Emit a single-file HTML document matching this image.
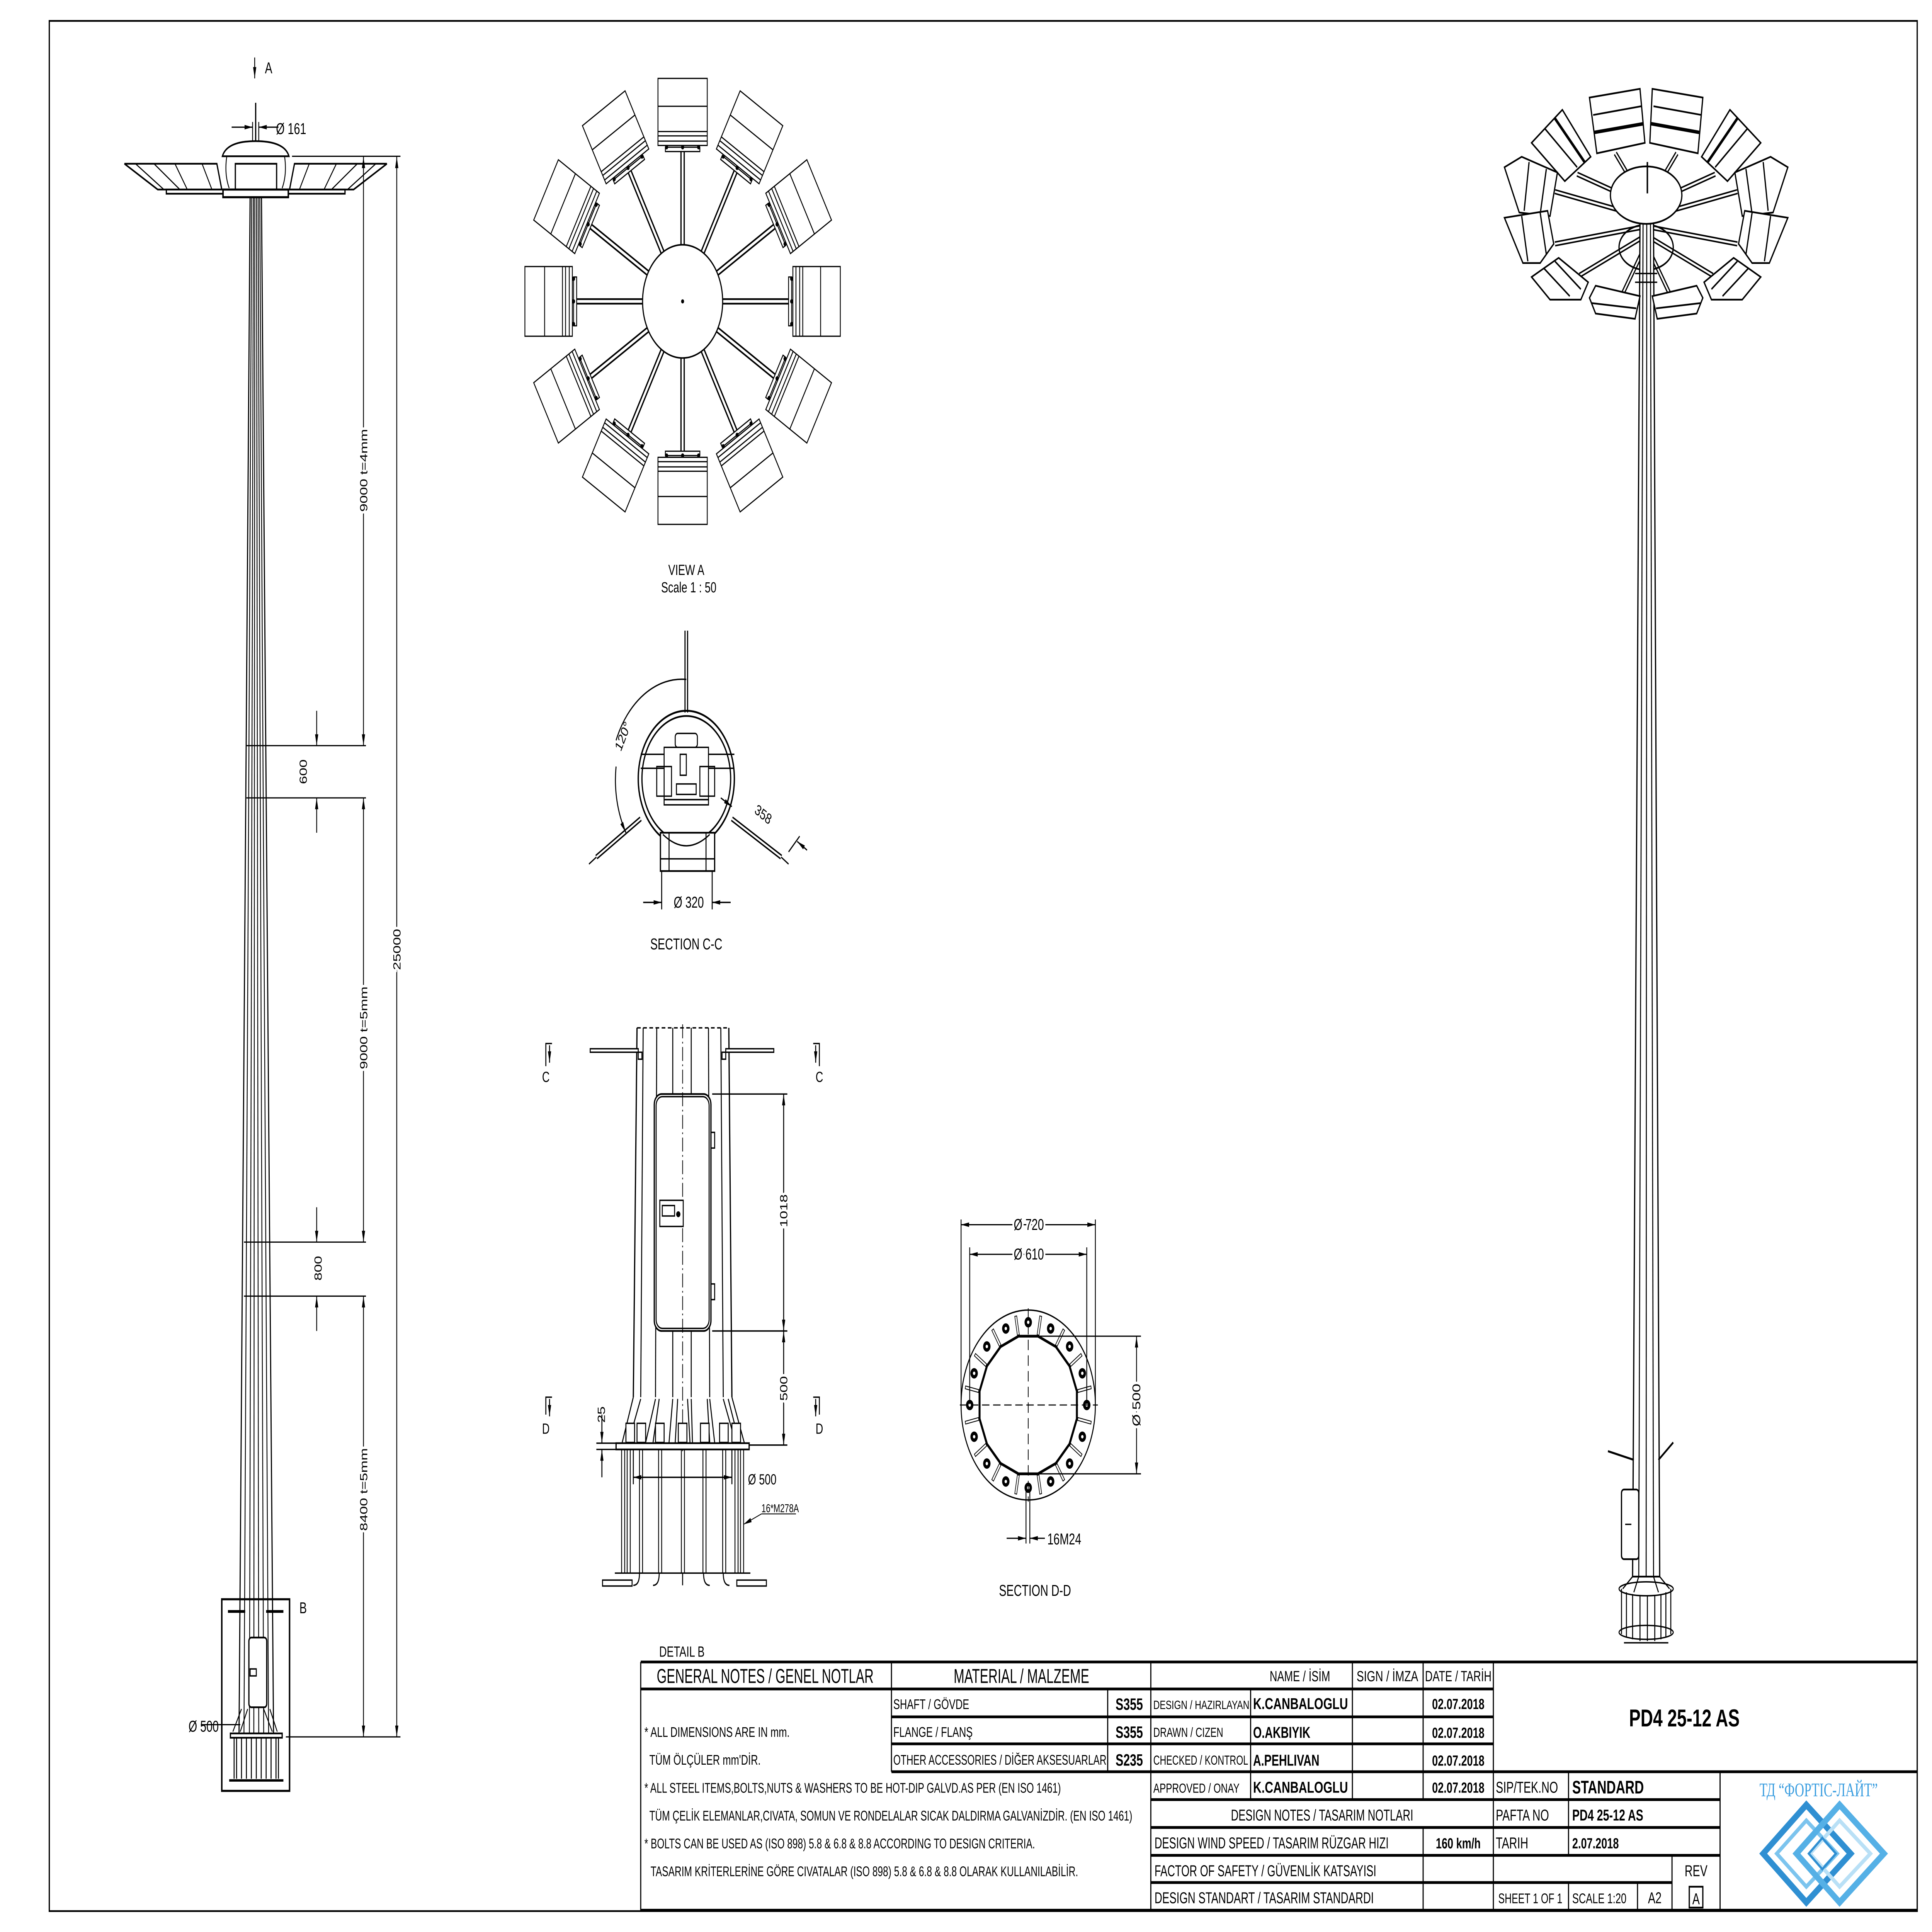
<!DOCTYPE html>
<html><head><meta charset="utf-8"><style>
html,body{margin:0;padding:0;background:#fff;overflow:hidden;width:100%;height:100%}
svg{display:block;width:100vw;height:100vh}
text{font-family:"Liberation Sans Narrow","Liberation Sans",sans-serif;fill:#000}
.h{stroke:#fff;stroke-width:3;paint-order:stroke}
</style></head><body>
<svg xmlns="http://www.w3.org/2000/svg" viewBox="0 0 1568 1109" preserveAspectRatio="none">
<defs>
<marker id="ar" viewBox="0 0 10 4" refX="10" refY="2" markerWidth="7" markerHeight="2.6" markerUnits="userSpaceOnUse" orient="auto-start-reverse"><path d="M0,0L10,2L0,4Z" fill="#000"/></marker>
<g id="lum" fill="#fff" stroke="#000" stroke-width="0.7">
<line x1="554" y1="141" x2="554" y2="86" stroke-width="3.6"/>
<line x1="554" y1="141" x2="554" y2="86" stroke="#fff" stroke-width="1.6"/>
<rect x="540" y="84.5" width="28" height="2.5"/>
<rect x="534" y="45" width="40" height="38.5"/>
<line x1="534" y1="61" x2="574" y2="61"/>
<line x1="534" y1="75.5" x2="574" y2="75.5"/>
<line x1="534" y1="78" x2="574" y2="78"/>
<line x1="534" y1="81" x2="574" y2="81"/>
<circle cx="541" cy="84.5" r="0.9" fill="#000"/><circle cx="554" cy="84.5" r="0.9" fill="#000"/><circle cx="567" cy="84.5" r="0.9" fill="#000"/>
</g>
<g id="slot"><rect x="875.5" y="805.7" width="11" height="1.6" fill="#fff" stroke="#000" stroke-width="0.5"/></g>
</defs>
<rect width="1568" height="1109" fill="#fff"/>
<rect x="40" y="12" width="1516" height="1085" fill="none" stroke="#000" stroke-width="1"/>

<!-- ===== LEFT POLE ELEVATION ===== -->
<g stroke="#000" fill="none" stroke-width="0.7">
<line x1="206.7" y1="33" x2="206.7" y2="45" marker-end="url(#ar)"/>
<line x1="207.5" y1="59" x2="207.5" y2="81" stroke-width="1"/>
<line x1="188" y1="73" x2="205" y2="73" marker-end="url(#ar)"/>
<line x1="226" y1="73" x2="210" y2="73" marker-end="url(#ar)"/>
<line x1="205" y1="70" x2="205" y2="86"/><line x1="210" y1="70" x2="210" y2="86"/>
<path d="M180.5,89.7 Q184,81 207.5,81 Q231,81 234.5,89.7 Z" fill="#fff" stroke-width="1"/>
<polygon points="101,94 176,94 180,108.8 128,108.8" fill="#fff" stroke-width="1"/>
<line x1="110" y1="94" x2="133" y2="108.8"/><line x1="125" y1="94" x2="146" y2="108.8"/><line x1="142" y1="94" x2="152" y2="108.8"/><line x1="164" y1="94" x2="172" y2="108.8"/>
<polygon points="314,94 239,94 235,108.8 287,108.8" fill="#fff" stroke-width="1"/>
<line x1="305" y1="94" x2="282" y2="108.8"/><line x1="290" y1="94" x2="269" y2="108.8"/><line x1="273" y1="94" x2="263" y2="108.8"/><line x1="251" y1="94" x2="243" y2="108.8"/>
<rect x="191" y="94" width="33.5" height="14.8" fill="#fff" stroke-width="1"/>
<path d="M184,90 Q182,100 186,108 M231,90 Q233,100 229,108"/>
<rect x="135" y="108.8" width="145" height="2.4" fill="#fff" stroke-width="1"/>
<rect x="181" y="108.8" width="53" height="4.4" fill="#fff" stroke-width="1.2"/>
<line x1="237" y1="89.7" x2="325" y2="89.7"/>
<line x1="203" y1="113" x2="194" y2="995" stroke-width="0.9"/>
<line x1="204.3" y1="113" x2="198" y2="995"/>
<line x1="205.7" y1="113" x2="202.4" y2="995"/>
<line x1="206.8" y1="113" x2="206" y2="995"/>
<line x1="208.2" y1="113" x2="210" y2="995"/>
<line x1="209.5" y1="113" x2="214" y2="995"/>
<line x1="210.8" y1="113" x2="218" y2="995"/>
<line x1="212.2" y1="113" x2="222" y2="995" stroke-width="0.9"/>
<line x1="200" y1="428" x2="297" y2="428"/>
<line x1="200" y1="458" x2="297" y2="458"/>
<line x1="198" y1="713" x2="297" y2="713"/>
<line x1="198" y1="744" x2="297" y2="744"/>
<line x1="232" y1="997" x2="325" y2="997"/>
<line x1="295" y1="90" x2="295" y2="428" marker-start="url(#ar)" marker-end="url(#ar)"/>
<line x1="295" y1="458" x2="295" y2="713" marker-start="url(#ar)" marker-end="url(#ar)"/>
<line x1="295" y1="744" x2="295" y2="997" marker-start="url(#ar)" marker-end="url(#ar)"/>
<line x1="322" y1="90" x2="322" y2="997" marker-start="url(#ar)" marker-end="url(#ar)"/>
<line x1="257" y1="408" x2="257" y2="428" marker-end="url(#ar)"/>
<line x1="257" y1="478" x2="257" y2="458" marker-end="url(#ar)"/>
<line x1="257" y1="693" x2="257" y2="713" marker-end="url(#ar)"/>
<line x1="257" y1="764" x2="257" y2="744" marker-end="url(#ar)"/>
<rect x="180" y="918" width="55" height="110" stroke-width="1.2"/>
<line x1="185" y1="925" x2="199" y2="925" stroke-width="1.6"/>
<line x1="216" y1="925" x2="230" y2="925" stroke-width="1.6"/>
<rect x="202" y="940" width="14.5" height="40" rx="2" fill="#fff" stroke-width="1"/>
<rect x="203" y="958" width="5" height="4" stroke-width="0.8"/>
<path d="M196,981 L189,994 M201,981 L195,994 M219,981 L225,994 M214,981 L221,994" />
<rect x="187" y="995" width="42" height="2.5" fill="#fff" stroke-width="1"/>
<g stroke-width="0.8">
<path d="M190,997V1021M192,997V1021M196,997V1021M200,997V1021M204,997V1021M208,997V1021M212,997V1021M216,997V1021M220,997V1021M224,997V1021M226,997V1021"/>
<line x1="186" y1="1022" x2="230" y2="1022" stroke-width="1.4"/>
</g>
<line x1="163" y1="990" x2="195" y2="990"/>
</g>
<g font-size="9">
<text x="215" y="42">A</text>
<text x="224" y="77">Ø 161</text>
<text x="243" y="926">B</text>
<text x="153" y="994">Ø 500</text>
<text class="h" transform="translate(298,270) rotate(-90)" text-anchor="middle" font-size="8.5">9000 t=4mm</text>
<text class="h" transform="translate(298,590) rotate(-90)" text-anchor="middle" font-size="8.5">9000 t=5mm</text>
<text class="h" transform="translate(298,855) rotate(-90)" text-anchor="middle" font-size="8.5">8400 t=5mm</text>
<text class="h" transform="translate(325,545) rotate(-90)" text-anchor="middle" font-size="8.5">25000</text>
<text transform="translate(249,443) rotate(-90)" text-anchor="middle" font-size="8.5">600</text>
<text transform="translate(261,728) rotate(-90)" text-anchor="middle" font-size="8.5">800</text>
<text x="535" y="951" font-size="8.5">DETAIL  B</text>
</g>

<!-- ===== VIEW A ===== -->
<use href="#lum"/>
<use href="#lum" transform="rotate(30 554 173)"/>
<use href="#lum" transform="rotate(60 554 173)"/>
<use href="#lum" transform="rotate(90 554 173)"/>
<use href="#lum" transform="rotate(120 554 173)"/>
<use href="#lum" transform="rotate(150 554 173)"/>
<use href="#lum" transform="rotate(180 554 173)"/>
<use href="#lum" transform="rotate(210 554 173)"/>
<use href="#lum" transform="rotate(240 554 173)"/>
<use href="#lum" transform="rotate(270 554 173)"/>
<use href="#lum" transform="rotate(300 554 173)"/>
<use href="#lum" transform="rotate(330 554 173)"/>
<circle cx="554" cy="173" r="32.5" fill="#fff" stroke="#000" stroke-width="0.9"/>
<circle cx="554" cy="173" r="1.2" fill="#000"/>
<text x="557" y="330" font-size="8.5" text-anchor="middle">VIEW A</text>
<text x="559" y="340" font-size="8.5" text-anchor="middle">Scale 1 : 50</text>

<!-- ===== SECTION C-C ===== -->
<g stroke="#000" fill="none" stroke-width="0.8">
<line x1="557" y1="362" x2="557" y2="409" stroke-width="3"/>
<line x1="557" y1="362" x2="557" y2="409" stroke="#fff" stroke-width="1.2"/>
<line x1="520" y1="470" x2="484" y2="492" stroke-width="3"/>
<line x1="520" y1="470" x2="484" y2="492" stroke="#fff" stroke-width="1.2"/>
<line x1="594" y1="470" x2="634" y2="492" stroke-width="3"/>
<line x1="594" y1="470" x2="634" y2="492" stroke="#fff" stroke-width="1.2"/>
<line x1="484" y1="492" x2="478" y2="496"/><line x1="634" y1="492" x2="640" y2="496"/>
<circle cx="557" cy="447" r="39" stroke-width="1.1"/>
<circle cx="557" cy="447" r="36" stroke-width="1"/>
<rect x="536" y="478" width="44" height="22" fill="#fff" stroke-width="1"/>
<line x1="536" y1="493" x2="580" y2="493"/>
<line x1="543" y1="478" x2="543" y2="500"/><line x1="573" y1="478" x2="573" y2="500"/>
<path d="M538,479 Q557,492 576,479"/>
<rect x="548" y="421" width="18" height="8" rx="2"/>
<rect x="539" y="429" width="36" height="30"/>
<line x1="520" y1="433" x2="539" y2="433"/><line x1="575" y1="433" x2="596" y2="433"/>
<line x1="520" y1="441" x2="539" y2="441"/><line x1="575" y1="441" x2="596" y2="441"/>
<rect x="533" y="440" width="12" height="17"/><rect x="568" y="440" width="12" height="17"/>
<rect x="549" y="450" width="16" height="6"/>
<rect x="539" y="459" width="36" height="3"/>
<rect x="552" y="433" width="5" height="12"/>
<path d="M557,390 A58,58 0 0 0 500,425"/>
<path d="M500,440 A58,58 0 0 0 508,478" marker-end="url(#ar)"/>
<line x1="585" y1="458" x2="594" y2="463" marker-end="url(#ar)"/>
<line x1="640" y1="489" x2="649" y2="480"/>
<line x1="655" y1="488" x2="647" y2="483" marker-end="url(#ar)"/>
<line x1="537" y1="500" x2="537" y2="522"/><line x1="578" y1="500" x2="578" y2="522"/>
<line x1="522" y1="518" x2="537" y2="518" marker-end="url(#ar)"/>
<line x1="593" y1="518" x2="578" y2="518" marker-end="url(#ar)"/>
</g>
<text transform="translate(508,424) rotate(-62)" font-size="8.5" text-anchor="middle">120°</text>
<text transform="translate(618,470) rotate(30)" font-size="8.5" text-anchor="middle">358</text>
<text x="559" y="521" font-size="9" text-anchor="middle">Ø 320</text>
<text x="557" y="545" font-size="9" text-anchor="middle">SECTION  C-C</text>

<!-- ===== FRONT SECTION ===== -->
<g stroke="#000" fill="none" stroke-width="0.8">
<line x1="517" y1="590" x2="591.5" y2="590" stroke-dasharray="3 2"/>
<line x1="517" y1="590" x2="514" y2="802" stroke-width="1"/>
<line x1="522" y1="590" x2="520" y2="802"/>
<line x1="533" y1="590" x2="532" y2="802"/>
<line x1="546" y1="590" x2="546" y2="802"/>
<line x1="561" y1="590" x2="561" y2="802"/>
<line x1="575" y1="590" x2="576" y2="802"/>
<line x1="585" y1="590" x2="587" y2="802"/>
<line x1="591.5" y1="590" x2="594" y2="802" stroke-width="1"/>
<rect x="479" y="602" width="39" height="2" fill="#fff"/>
<rect x="589" y="602" width="39" height="2" fill="#fff"/>
<rect x="518" y="604" width="3" height="4"/><rect x="586" y="604" width="3" height="4"/>
<rect x="531" y="628" width="46" height="136" rx="6" fill="#fff" stroke-width="1"/>
<rect x="532.5" y="629.5" width="43" height="133" rx="5"/>
<line x1="554" y1="588" x2="554" y2="834" stroke-dasharray="8 2 1 2" stroke-width="0.6"/>
<rect x="535.5" y="689" width="19" height="15" fill="#fff"/>
<rect x="537.5" y="692" width="10" height="6"/>
<circle cx="550.5" cy="697" r="1.3" fill="#000"/>
<rect x="577" y="650" width="3" height="9"/><rect x="577" y="737" width="3" height="9"/>
<path d="M514,802 L505,828 M520,803 L510,828 M532,803 L524,828 M535,803 L530,828 M546,803 L543,828 M550,803 L548,828 M561,803 L562,828 M558,803 L560,828 M576,803 L580,828 M574,803 L576,828 M587,803 L597,828 M591,803 L600,828 M594,802 L604,828"/>
<g fill="#fff">
<rect x="508" y="817" width="7" height="11"/><rect x="517" y="817" width="7" height="11"/><rect x="532" y="817" width="7" height="11"/><rect x="550.5" y="817" width="7" height="11"/><rect x="568.5" y="817" width="7" height="11"/><rect x="584" y="817" width="7" height="11"/><rect x="594" y="817" width="7" height="11"/>
</g>
<rect x="500" y="828.4" width="108" height="3.6" fill="#fff" stroke-width="1"/>
<path stroke-width="0.7" d="M504.5,832V903M507,832V903M509,832V903M511.5,832V903M519,832V903M521.5,832V903M534.5,832V903M537,832V903M553,832V903M555.5,832V903M570.5,832V903M573,832V903M586.5,832V903M589,832V903M596.5,832V903M599,832V903M601,832V903M603.5,832V903"/>
<line x1="499" y1="903" x2="609" y2="903"/>
<rect x="489" y="907" width="24" height="3.4" fill="#fff"/>
<rect x="598" y="907" width="24" height="3.4" fill="#fff"/>
<path d="M519,903 Q519,910 514,910 M535,903 Q535,910 530,910 M571,903 Q571,910 576,910 M587,903 Q587,910 592,910 M554,903 V910"/>
<path d="M443,612 V599 H448 M665,612 V599 H660" />
<path d="M443,812 V802 H448 M665,812 V802 H660"/>
<line x1="578" y1="628" x2="639" y2="628"/>
<line x1="578" y1="764" x2="639" y2="764"/>
<line x1="608" y1="829.5" x2="639" y2="829.5"/>
<line x1="636" y1="628" x2="636" y2="764" marker-start="url(#ar)" marker-end="url(#ar)"/>
<line x1="636" y1="764" x2="636" y2="829.5" marker-start="url(#ar)" marker-end="url(#ar)"/>
<line x1="484" y1="828.4" x2="500" y2="828.4"/><line x1="484" y1="832" x2="500" y2="832"/>
<line x1="488.5" y1="812" x2="488.5" y2="828.4" marker-end="url(#ar)"/>
<line x1="488.5" y1="848" x2="488.5" y2="832" marker-end="url(#ar)"/>
<line x1="514" y1="832" x2="514" y2="852"/><line x1="594" y1="832" x2="594" y2="852"/>
<line x1="514" y1="848" x2="594" y2="848" marker-start="url(#ar)" marker-end="url(#ar)"/>
<line x1="618" y1="869" x2="646" y2="869" stroke-width="0.5"/>
<line x1="618" y1="869" x2="603.5" y2="875" marker-end="url(#ar)" stroke-width="0.5"/>
<path d="M446,600 V610" marker-end="url(#ar)"/>
<path d="M662,600 V610" marker-end="url(#ar)"/>
<path d="M446,803 V813" marker-end="url(#ar)"/>
<path d="M662,803 V813" marker-end="url(#ar)"/>
</g>
<g font-size="8.5">
<text x="443" y="621" text-anchor="middle">C</text>
<text x="665" y="621" text-anchor="middle">C</text>
<text x="443" y="823" text-anchor="middle">D</text>
<text x="665" y="823" text-anchor="middle">D</text>
<text class="h" transform="translate(639,695) rotate(-90)" text-anchor="middle">1018</text>
<text class="h" transform="translate(639,797) rotate(-90)" text-anchor="middle">500</text>
<text transform="translate(491,812) rotate(-90)" text-anchor="middle">25</text>
<text x="607" y="852">Ø 500</text>
<text x="618" y="868" font-size="6.5">16*M278A</text>
</g>

<!-- ===== SECTION D-D ===== -->
<g stroke="#000" fill="none" stroke-width="0.7">
<circle cx="834.5" cy="806.5" r="54.5" stroke-width="0.8"/>
<use href="#slot" transform="rotate(11.25 834.5 806.5)"/><use href="#slot" transform="rotate(33.75 834.5 806.5)"/><use href="#slot" transform="rotate(56.25 834.5 806.5)"/><use href="#slot" transform="rotate(78.75 834.5 806.5)"/>
<use href="#slot" transform="rotate(101.25 834.5 806.5)"/><use href="#slot" transform="rotate(123.75 834.5 806.5)"/><use href="#slot" transform="rotate(146.25 834.5 806.5)"/><use href="#slot" transform="rotate(168.75 834.5 806.5)"/>
<use href="#slot" transform="rotate(191.25 834.5 806.5)"/><use href="#slot" transform="rotate(213.75 834.5 806.5)"/><use href="#slot" transform="rotate(236.25 834.5 806.5)"/><use href="#slot" transform="rotate(258.75 834.5 806.5)"/>
<use href="#slot" transform="rotate(281.25 834.5 806.5)"/><use href="#slot" transform="rotate(303.75 834.5 806.5)"/><use href="#slot" transform="rotate(326.25 834.5 806.5)"/><use href="#slot" transform="rotate(348.75 834.5 806.5)"/>
<polygon points="874.0,814.4 868.0,828.9 856.9,840.0 842.4,846.0 826.6,846.0 812.1,840.0 801.0,828.9 795.0,814.4 795.0,798.6 801.0,784.1 812.1,773.0 826.6,767.0 842.4,767.0 856.9,773.0 868.0,784.1 874.0,798.6" stroke-width="1.6"/>
<g fill="#000" stroke="none">
<circle cx="882" cy="806.5" r="3"/><circle cx="878.4" cy="824.7" r="3"/><circle cx="868.1" cy="840.1" r="3"/><circle cx="852.7" cy="850.4" r="3"/><circle cx="834.5" cy="854" r="3"/><circle cx="816.3" cy="850.4" r="3"/><circle cx="800.9" cy="840.1" r="3"/><circle cx="790.6" cy="824.7" r="3"/><circle cx="787" cy="806.5" r="3"/><circle cx="790.6" cy="788.3" r="3"/><circle cx="800.9" cy="772.9" r="3"/><circle cx="816.3" cy="762.6" r="3"/><circle cx="834.5" cy="759" r="3"/><circle cx="852.7" cy="762.6" r="3"/><circle cx="868.1" cy="772.9" r="3"/><circle cx="878.4" cy="788.3" r="3"/>
</g>
<g fill="#fff" stroke="none">
<circle cx="882" cy="806.5" r="1"/><circle cx="878.4" cy="824.7" r="1"/><circle cx="868.1" cy="840.1" r="1"/><circle cx="852.7" cy="850.4" r="1"/><circle cx="834.5" cy="854" r="1"/><circle cx="816.3" cy="850.4" r="1"/><circle cx="800.9" cy="840.1" r="1"/><circle cx="790.6" cy="824.7" r="1"/><circle cx="787" cy="806.5" r="1"/><circle cx="790.6" cy="788.3" r="1"/><circle cx="800.9" cy="772.9" r="1"/><circle cx="816.3" cy="762.6" r="1"/><circle cx="834.5" cy="759" r="1"/><circle cx="852.7" cy="762.6" r="1"/><circle cx="868.1" cy="772.9" r="1"/><circle cx="878.4" cy="788.3" r="1"/>
</g>
<line x1="779" y1="806.5" x2="891" y2="806.5" stroke-dasharray="6 3" stroke-width="0.6"/>
<line x1="834.5" y1="751" x2="834.5" y2="862" stroke-dasharray="6 3" stroke-width="0.6"/>
<line x1="780" y1="700" x2="780" y2="806"/><line x1="889" y1="700" x2="889" y2="806"/>
<line x1="787" y1="716" x2="787" y2="806"/><line x1="882" y1="716" x2="882" y2="806"/>
<line x1="780" y1="703" x2="889" y2="703" marker-start="url(#ar)" marker-end="url(#ar)"/>
<line x1="787" y1="720" x2="882" y2="720" marker-start="url(#ar)" marker-end="url(#ar)"/>
<line x1="843" y1="767" x2="926" y2="767"/><line x1="843" y1="846" x2="926" y2="846"/>
<line x1="922.4" y1="767" x2="922.4" y2="846" marker-start="url(#ar)" marker-end="url(#ar)"/>
<line x1="832.7" y1="856" x2="832.7" y2="886"/><line x1="835.8" y1="856" x2="835.8" y2="886"/>
<line x1="817" y1="883" x2="832.7" y2="883" marker-end="url(#ar)"/>
<line x1="848" y1="883" x2="835.8" y2="883" marker-end="url(#ar)"/>
</g>
<g font-size="9">
<text class="h" x="835" y="706" text-anchor="middle">Ø 720</text>
<text class="h" x="835" y="723" text-anchor="middle">Ø 610</text>
<text class="h" transform="translate(925.5,806.5) rotate(-90)" text-anchor="middle">Ø 500</text>
<text x="850" y="886.5">16M24</text>
<text x="840" y="916" text-anchor="middle">SECTION D-D</text>
</g>

<!-- ===== RIGHT 3D VIEW ===== -->
<g stroke="#000" fill="none" stroke-width="0.8">
<g stroke-width="3">
<line x1="1336" y1="118" x2="1311" y2="88"/><line x1="1336" y1="118" x2="1361" y2="88"/>
<line x1="1336" y1="118" x2="1280" y2="100"/><line x1="1336" y1="118" x2="1392" y2="100"/>
<line x1="1336" y1="125" x2="1262" y2="110"/><line x1="1336" y1="125" x2="1410" y2="110"/>
<line x1="1336" y1="130" x2="1262" y2="140"/><line x1="1336" y1="130" x2="1410" y2="140"/>
<line x1="1336" y1="135" x2="1282" y2="158"/><line x1="1336" y1="135" x2="1390" y2="158"/>
<line x1="1336" y1="140" x2="1316" y2="170"/><line x1="1336" y1="140" x2="1356" y2="170"/>
</g>
<g stroke-width="1.2" stroke="#fff">
<line x1="1336" y1="118" x2="1311" y2="88"/><line x1="1336" y1="118" x2="1361" y2="88"/>
<line x1="1336" y1="118" x2="1280" y2="100"/><line x1="1336" y1="118" x2="1392" y2="100"/>
<line x1="1336" y1="125" x2="1262" y2="110"/><line x1="1336" y1="125" x2="1410" y2="110"/>
<line x1="1336" y1="130" x2="1262" y2="140"/><line x1="1336" y1="130" x2="1410" y2="140"/>
<line x1="1336" y1="135" x2="1282" y2="158"/><line x1="1336" y1="135" x2="1390" y2="158"/>
<line x1="1336" y1="140" x2="1316" y2="170"/><line x1="1336" y1="140" x2="1356" y2="170"/>
</g>
<ellipse cx="1336" cy="142" rx="22" ry="13" stroke-width="1"/>
<polygon points="1331,128 1342,128 1347,905 1325,905" fill="#fff" stroke-width="1"/>
<line x1="1333.5" y1="128" x2="1330" y2="905"/>
<line x1="1336.5" y1="128" x2="1336" y2="905"/>
<line x1="1339.5" y1="128" x2="1342" y2="905"/>
<line x1="1327" y1="157" x2="1345" y2="157"/><line x1="1327" y1="162" x2="1345" y2="162"/>
<g fill="#fff" stroke-width="1">
<polygon points="1290,56 1331,51 1335,82 1296,88"/><line x1="1293" y1="66" x2="1332" y2="61"/><line x1="1294" y1="76" x2="1334" y2="71" stroke-width="2"/>
<polygon points="1341,51 1382,56 1378,88 1339,82"/><line x1="1342" y1="61" x2="1381" y2="66"/><line x1="1340" y1="71" x2="1379" y2="76" stroke-width="2"/>
<polygon points="1243,82 1268,63 1291,90 1270,104"/><line x1="1254" y1="74" x2="1280" y2="96"/><line x1="1262" y1="68" x2="1286" y2="93" stroke-width="1.8"/>
<polygon points="1429,82 1404,63 1381,90 1402,104"/><line x1="1418" y1="74" x2="1392" y2="96"/><line x1="1410" y1="68" x2="1386" y2="93" stroke-width="1.8"/>
<polygon points="1221,96 1235,90 1264,99 1258,124 1233,122"/><line x1="1241" y1="93" x2="1237" y2="121"/><line x1="1255" y1="97" x2="1250" y2="123"/>
<polygon points="1451,96 1437,90 1408,99 1414,124 1439,122"/><line x1="1431" y1="93" x2="1435" y2="121"/><line x1="1417" y1="97" x2="1422" y2="123"/>
<polygon points="1221,125 1256,121 1261,140 1250,151 1236,151"/><line x1="1235" y1="124" x2="1240" y2="150"/><line x1="1250" y1="122" x2="1255" y2="146"/>
<polygon points="1451,125 1416,121 1411,140 1422,151 1436,151"/><line x1="1437" y1="124" x2="1432" y2="150"/><line x1="1422" y1="122" x2="1417" y2="146"/>
<polygon points="1243,159 1265,148 1289,162 1283,172 1258,172"/><line x1="1253" y1="154" x2="1274" y2="170"/><line x1="1262" y1="150" x2="1283" y2="166"/>
<polygon points="1429,159 1407,148 1383,162 1389,172 1414,172"/><line x1="1419" y1="154" x2="1398" y2="170"/><line x1="1410" y1="150" x2="1389" y2="166"/>
<polygon points="1290,171 1295,164 1331,170 1327,183 1295,180"/><line x1="1292" y1="174" x2="1328" y2="177"/>
<polygon points="1382,171 1377,164 1341,170 1345,183 1377,180"/><line x1="1380" y1="174" x2="1344" y2="177"/>
</g>
<ellipse cx="1336" cy="112" rx="29" ry="16.5" fill="#fff" stroke-width="1"/>
<line x1="1337" y1="93" x2="1337" y2="111" stroke-width="1.2"/>
<line x1="1305" y1="833" x2="1326" y2="838" stroke-width="1.2"/>
<line x1="1346" y1="838" x2="1358" y2="828" stroke-width="1.2"/>
<rect x="1316" y="855" width="14" height="40" rx="2" fill="#fff" stroke-width="1"/>
<line x1="1319" y1="875" x2="1324" y2="875"/>
<ellipse cx="1336" cy="912" rx="22" ry="4" fill="#fff"/>
<path d="M1316,912V938M1320,914V940M1325,915V941M1331,916V942M1337,916V942M1343,916V942M1348,915V941M1352,914V940M1356,912V938"/>
<path d="M1325,905 L1317,912 M1347,905 L1355,912 M1330,905 L1326,914 M1342,905 L1346,914"/>
<ellipse cx="1336" cy="937" rx="22" ry="4"/>
<line x1="1318" y1="943" x2="1354" y2="943"/>
</g>

<!-- ===== TITLE BLOCK ===== -->
<g stroke="#000" fill="none">
<g stroke-width="1.6">
<line x1="520" y1="954" x2="1556" y2="954"/>
<line x1="520" y1="969.5" x2="1212" y2="969.5"/>
<line x1="723.5" y1="985.5" x2="1212" y2="985.5"/>
<line x1="723.5" y1="1001" x2="1212" y2="1001"/>
<line x1="723.5" y1="1017" x2="1556" y2="1017"/>
<line x1="934" y1="1033" x2="1396" y2="1033"/>
<line x1="934" y1="1049" x2="1396" y2="1049"/>
<line x1="934" y1="1065" x2="1396" y2="1065"/>
<line x1="934" y1="1080.6" x2="1357" y2="1080.6"/>
<line x1="520" y1="1096.5" x2="1556" y2="1096.5"/>
</g>
<g stroke-width="0.9">
<line x1="520" y1="954" x2="520" y2="1097"/>
<line x1="723.5" y1="954" x2="723.5" y2="1017"/>
<line x1="899" y1="969.5" x2="899" y2="1017"/>
<line x1="934" y1="954" x2="934" y2="1097"/>
<line x1="1015" y1="969.5" x2="1015" y2="1033"/>
<line x1="1097.6" y1="954" x2="1097.6" y2="1033"/>
<line x1="1155" y1="954" x2="1155" y2="1033"/>
<line x1="1155" y1="1049" x2="1155" y2="1097"/>
<line x1="1212" y1="954" x2="1212" y2="1097"/>
<line x1="1273" y1="1017" x2="1273" y2="1065"/>
<line x1="1273" y1="1080.6" x2="1273" y2="1097"/>
<line x1="1329" y1="1080.6" x2="1329" y2="1097"/>
<line x1="1357" y1="1065" x2="1357" y2="1097"/>
<line x1="1396" y1="1017" x2="1396" y2="1097"/>
</g>
<rect x="1371" y="1083" width="11" height="12" stroke-width="1"/>
</g>
<g font-size="7.5">
<text x="621" y="966" font-size="11.5" text-anchor="middle" textLength="176" lengthAdjust="spacingAndGlyphs">GENERAL NOTES / GENEL NOTLAR</text>
<text x="829" y="966" font-size="11.5" text-anchor="middle" textLength="110" lengthAdjust="spacingAndGlyphs">MATERIAL / MALZEME</text>
<text x="1055" y="965" font-size="8.5" text-anchor="middle">NAME / İSİM</text>
<text x="1126" y="965" font-size="8.5" text-anchor="middle" textLength="50" lengthAdjust="spacingAndGlyphs">SIGN / İMZA</text>
<text x="1183.5" y="965" font-size="8.5" text-anchor="middle" textLength="54" lengthAdjust="spacingAndGlyphs">DATE / TARİH</text>
<text x="725" y="981" font-size="8">SHAFT / GÖVDE</text>
<text x="725" y="997" font-size="8">FLANGE / FLANŞ</text>
<text x="725" y="1013" font-size="8" textLength="173" lengthAdjust="spacingAndGlyphs">OTHER ACCESSORIES / DİĞER AKSESUARLAR</text>
<text x="916.5" y="981.5" font-size="9.5" font-weight="bold" text-anchor="middle">S355</text>
<text x="916.5" y="997.5" font-size="9.5" font-weight="bold" text-anchor="middle">S355</text>
<text x="916.5" y="1013.5" font-size="9.5" font-weight="bold" text-anchor="middle">S235</text>
<text x="936" y="981" font-size="7" textLength="78" lengthAdjust="spacingAndGlyphs">DESIGN / HAZIRLAYAN</text>
<text x="936" y="997" font-size="7.5">DRAWN / CIZEN</text>
<text x="936" y="1013" font-size="7.5" textLength="77" lengthAdjust="spacingAndGlyphs">CHECKED / KONTROL</text>
<text x="936" y="1029" font-size="7.5" textLength="70" lengthAdjust="spacingAndGlyphs">APPROVED / ONAY</text>
<g font-size="9" font-weight="bold">
<text x="1017" y="981" textLength="77" lengthAdjust="spacingAndGlyphs">K.CANBALOGLU</text>
<text x="1017" y="997.5">O.AKBIYIK</text>
<text x="1017" y="1013.5">A.PEHLIVAN</text>
<text x="1017" y="1029" textLength="77" lengthAdjust="spacingAndGlyphs">K.CANBALOGLU</text>
<text x="1183.5" y="981" text-anchor="middle" font-size="8.5">02.07.2018</text>
<text x="1183.5" y="997.5" text-anchor="middle" font-size="8.5">02.07.2018</text>
<text x="1183.5" y="1013.5" text-anchor="middle" font-size="8.5">02.07.2018</text>
<text x="1183.5" y="1029" text-anchor="middle" font-size="8.5">02.07.2018</text>
</g>
<text x="1367" y="991" font-size="14" font-weight="bold" text-anchor="middle">PD4 25-12 AS</text>
<text x="523" y="997" font-size="8">* ALL DIMENSIONS ARE IN mm.</text>
<text x="527" y="1013" font-size="8">TÜM ÖLÇÜLER mm'DİR.</text>
<text x="523" y="1029" font-size="8" textLength="338" lengthAdjust="spacingAndGlyphs">* ALL STEEL ITEMS,BOLTS,NUTS &amp; WASHERS TO BE HOT-DIP GALVD.AS PER (EN ISO 1461)</text>
<text x="527" y="1045" font-size="8" textLength="392" lengthAdjust="spacingAndGlyphs">TÜM ÇELİK ELEMANLAR,CIVATA, SOMUN VE RONDELALAR SICAK DALDIRMA GALVANİZDİR. (EN ISO 1461)</text>
<text x="523" y="1061" font-size="8" textLength="317" lengthAdjust="spacingAndGlyphs">* BOLTS CAN BE USED AS (ISO 898) 5.8 &amp; 6.8 &amp; 8.8 ACCORDING TO DESIGN CRITERIA.</text>
<text x="528" y="1077" font-size="8" textLength="347" lengthAdjust="spacingAndGlyphs">TASARIM KRİTERLERİNE GÖRE CIVATALAR (ISO 898) 5.8 &amp; 6.8 &amp; 8.8 OLARAK KULLANILABİLİR.</text>
<text x="1214" y="1029" font-size="9">SIP/TEK.NO</text>
<text x="1276" y="1029.5" font-size="10.5" font-weight="bold">STANDARD</text>
<text x="1073" y="1045" font-size="9" text-anchor="middle" textLength="148" lengthAdjust="spacingAndGlyphs">DESIGN NOTES / TASARIM NOTLARI</text>
<text x="1214" y="1045" font-size="9">PAFTA NO</text>
<text x="1276" y="1045" font-size="9" font-weight="bold">PD4 25-12 AS</text>
<text x="937" y="1061" font-size="9" textLength="190" lengthAdjust="spacingAndGlyphs">DESIGN WIND SPEED / TASARIM RÜZGAR HIZI</text>
<text x="1183.5" y="1061" font-size="8.5" font-weight="bold" text-anchor="middle">160 km/h</text>
<text x="1214" y="1061" font-size="9">TARIH</text>
<text x="1276" y="1061" font-size="8.5" font-weight="bold">2.07.2018</text>
<text x="937" y="1077" font-size="9" textLength="180" lengthAdjust="spacingAndGlyphs">FACTOR OF SAFETY / GÜVENLİK KATSAYISI</text>
<text x="1376.5" y="1077" font-size="9" text-anchor="middle">REV</text>
<text x="937" y="1092.5" font-size="9" textLength="178" lengthAdjust="spacingAndGlyphs">DESIGN STANDART / TASARIM STANDARDI</text>
<text x="1216" y="1092.5" font-size="8" textLength="52" lengthAdjust="spacingAndGlyphs">SHEET 1 OF 1</text>
<text x="1276" y="1092.5" font-size="8">SCALE   1:20</text>
<text x="1343" y="1092.5" font-size="9" text-anchor="middle">A2</text>
<text x="1376.5" y="1093" font-size="9" text-anchor="middle">A</text>
</g>
<text x="1476" y="1031" font-size="11" style="font-family:'Liberation Serif',serif;fill:#3b9ee0" text-anchor="middle" textLength="96" lengthAdjust="spacingAndGlyphs">ТД “ФОРТІС-ЛАЙТ”</text>
<g fill="none">
<polygon points="1466,1036 1502,1064 1466,1092 1431,1064" stroke="#2f8fd2" stroke-width="4"/>
<polygon points="1466,1045 1491,1064 1466,1083 1442,1064" stroke="#7cc4ee" stroke-width="2.5"/>
<polygon points="1493,1036 1529,1064 1493,1092 1458,1064" stroke="#55b0e6" stroke-width="4"/>
<polygon points="1493,1045 1518,1064 1493,1083 1469,1064" stroke="#b9e0f6" stroke-width="2.5"/>
<polygon points="1479,1055 1490,1064 1479,1073 1468,1064" stroke="#2f8fd2" stroke-width="1.5"/>
</g>
</svg>
</body></html>
